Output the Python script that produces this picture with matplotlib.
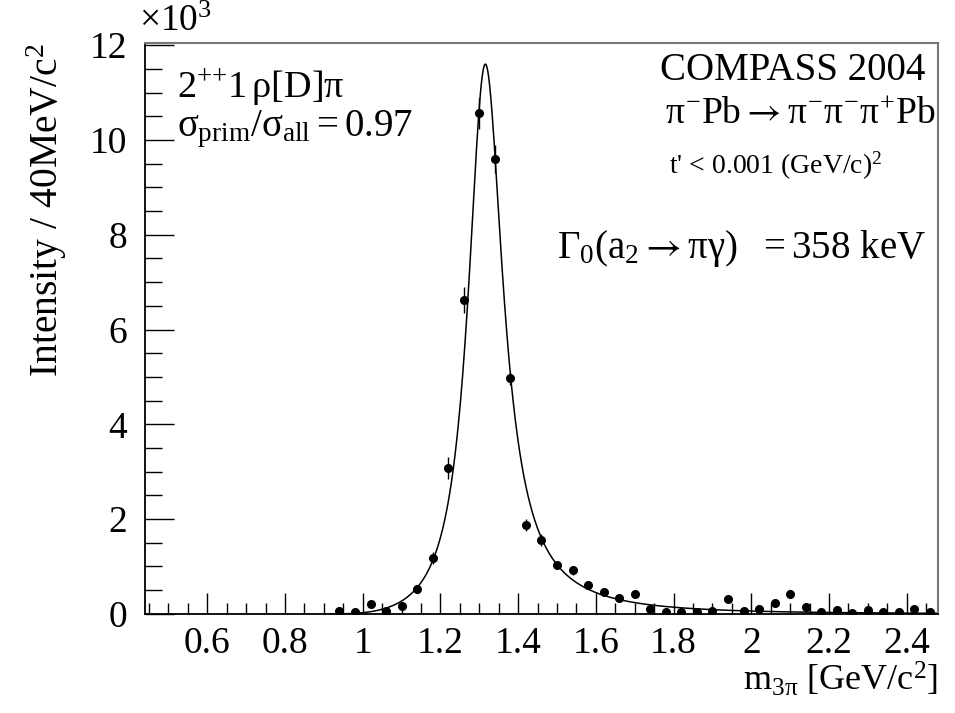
import numpy as np
import matplotlib
matplotlib.use("Agg")
import matplotlib.pyplot as plt
from matplotlib.ticker import MultipleLocator, FormatStrFormatter

# 3pi mass bins (40 MeV wide), intensities and errors (events)
mass_bins = [0.94, 0.98, 1.02, 1.06, 1.10, 1.14, 1.18, 1.22, 1.26, 1.30,
             1.34, 1.38, 1.42, 1.46, 1.50, 1.54, 1.58, 1.62, 1.66, 1.70,
             1.74, 1.78, 1.82, 1.86, 1.90, 1.94, 1.98, 2.02, 2.06, 2.10,
             2.14, 2.18, 2.22, 2.26, 2.30, 2.34, 2.38, 2.42, 2.46]
intensity = [70, 40, 200, 60, 170, 530, 1180, 3080, 6620, 10560,
             9600, 4970, 1870, 1560, 1030, 920, 600, 470, 340, 420,
             110, 40, 40, 40, 60, 320, 60, 110, 230, 410,
             140, 40, 80, 20, 90, 50, 30, 110, 30]
errors = [40, 30, 70, 40, 60, 80, 120, 230, 280, 320,
          300, 140, 130, 120, 90, 90, 70, 60, 60, 70,
          40, 30, 30, 30, 40, 70, 40, 50, 60, 70,
          50, 30, 40, 20, 40, 30, 20, 50, 20]

# a2(1320) -> rho pi (D-wave) Breit-Wigner fit parameters
FIT_MASS = 1.312
FIT_WIDTH = 0.110
FIT_PEAK = 11600
PRIMAKOFF_POWER = 1.5
M_RHO, M_PI = 0.775, 0.1396
Q_R = 0.1973

X_RANGE = (0.44, 2.48)
Y_RANGE = (0, 12.05)


def breakup_q(m):
    s = m ** 2
    val = (s - (M_RHO + M_PI) ** 2) * (s - (M_RHO - M_PI) ** 2)
    return np.sqrt(np.clip(val, 0, None)) / (2 * m)


def fit_shape(m):
    q = breakup_q(m)
    z = (q / Q_R) ** 2
    f2 = 13 * z ** 2 / ((z - 3) ** 2 + 9 * z)
    phase = q * f2 / m
    bw = 1.0 / ((FIT_MASS ** 2 - m ** 2) ** 2 + (FIT_MASS * FIT_WIDTH) ** 2)
    return phase * bw / m ** PRIMAKOFF_POWER


plt.rcParams["font.family"] = ["Liberation Serif", "DejaVu Serif"]
plt.rcParams["mathtext.fontset"] = "custom"
plt.rcParams["mathtext.rm"] = "Liberation Serif"
plt.rcParams["mathtext.it"] = "Liberation Serif"
plt.rcParams["mathtext.bf"] = "Liberation Serif:bold"
plt.rcParams["mathtext.sf"] = "STIXGeneral"  # used for the long arrows
plt.rcParams["mathtext.fallback"] = "stix"

ARROW = r"\mathsf{\rightarrow}"

fig = plt.figure(figsize=(9.55, 7.13), dpi=100)
ax = fig.add_axes([0.152, 0.139, 0.830, 0.801])

x = np.array(mass_bins)
y = np.array(intensity) / 1e3
dy = np.array(errors) / 1e3

m_thr = M_RHO + M_PI
m_grid = np.linspace(m_thr + 1e-4, X_RANGE[1], 2000)
shape = fit_shape(m_grid)
curve = shape / shape.max() * FIT_PEAK / 1e3
ax.plot(m_grid, curve, color="black", lw=1.1, zorder=2)

ax.errorbar(x, y, yerr=dy, fmt="o", color="black", ms=5.5, elinewidth=1.0,
            capsize=0, zorder=3)

ax.set_xlim(*X_RANGE)
ax.set_ylim(*Y_RANGE)

ax.xaxis.set_major_locator(MultipleLocator(0.2))
ax.xaxis.set_minor_locator(MultipleLocator(0.05))
ax.yaxis.set_major_locator(MultipleLocator(2))
ax.yaxis.set_minor_locator(MultipleLocator(0.5))
ax.xaxis.set_major_formatter(FormatStrFormatter("%g"))
ax.yaxis.set_major_formatter(FormatStrFormatter("%g"))

ax.tick_params(axis="both", which="both", direction="in", top=False, right=False,
               labelsize=27, color="black")
ax.tick_params(axis="x", which="major", length=15, width=1.0, pad=9)
ax.tick_params(axis="x", which="minor", length=8, width=1.0)
ax.tick_params(axis="y", which="major", length=21, width=1.0, pad=13)
ax.tick_params(axis="y", which="minor", length=12, width=1.0)

for side in ("left", "bottom"):
    ax.spines[side].set_color("black")
    ax.spines[side].set_linewidth(1.3)
for side in ("top", "right"):
    ax.spines[side].set_color("#777777")
    ax.spines[side].set_linewidth(1.5)

ax.set_xlabel(r"m$_{3\pi}$ [GeV/c$^{2}$]", fontsize=26, loc="right", labelpad=0)
ax.set_ylabel(r"Intensity / 40MeV/c$^{2}$", fontsize=28.5, loc="top", labelpad=15)

fig.text(0.146, 0.945, r"$\times$10$^{3}$", fontsize=27, ha="left", va="bottom")

ax.text(0.04, 0.922, r"$2^{{+}{+}}1\,\rho[\mathrm{D}]\pi$", transform=ax.transAxes,
        fontsize=27.5, ha="left", va="center")
ax.text(0.04, 0.848, r"$\sigma_{\mathrm{prim}}/\sigma_{\mathrm{all}} = 0.97$",
        transform=ax.transAxes, fontsize=28, ha="left", va="center")

ax.text(0.984, 0.952, "COMPASS 2004", transform=ax.transAxes,
        fontsize=28, ha="right", va="center")
ax.text(0.997, 0.875,
        r"$\pi^{-}\mathrm{Pb}" + ARROW + r"\pi^{-}\pi^{-}\pi^{+}\mathrm{Pb}$",
        transform=ax.transAxes, fontsize=27, ha="right", va="center")
ax.text(0.93, 0.785, r"t' < 0.001 (GeV/c)$^{2}$", transform=ax.transAxes,
        fontsize=20, ha="right", va="center")
ax.text(0.985, 0.64,
        r"$\Gamma_{0}(\mathrm{a}_{2}" + ARROW + r"\pi\gamma)\ \ = 358\ \mathrm{keV}$",
        transform=ax.transAxes, fontsize=28, ha="right", va="center")

fig.savefig("out.png", dpi=100)
